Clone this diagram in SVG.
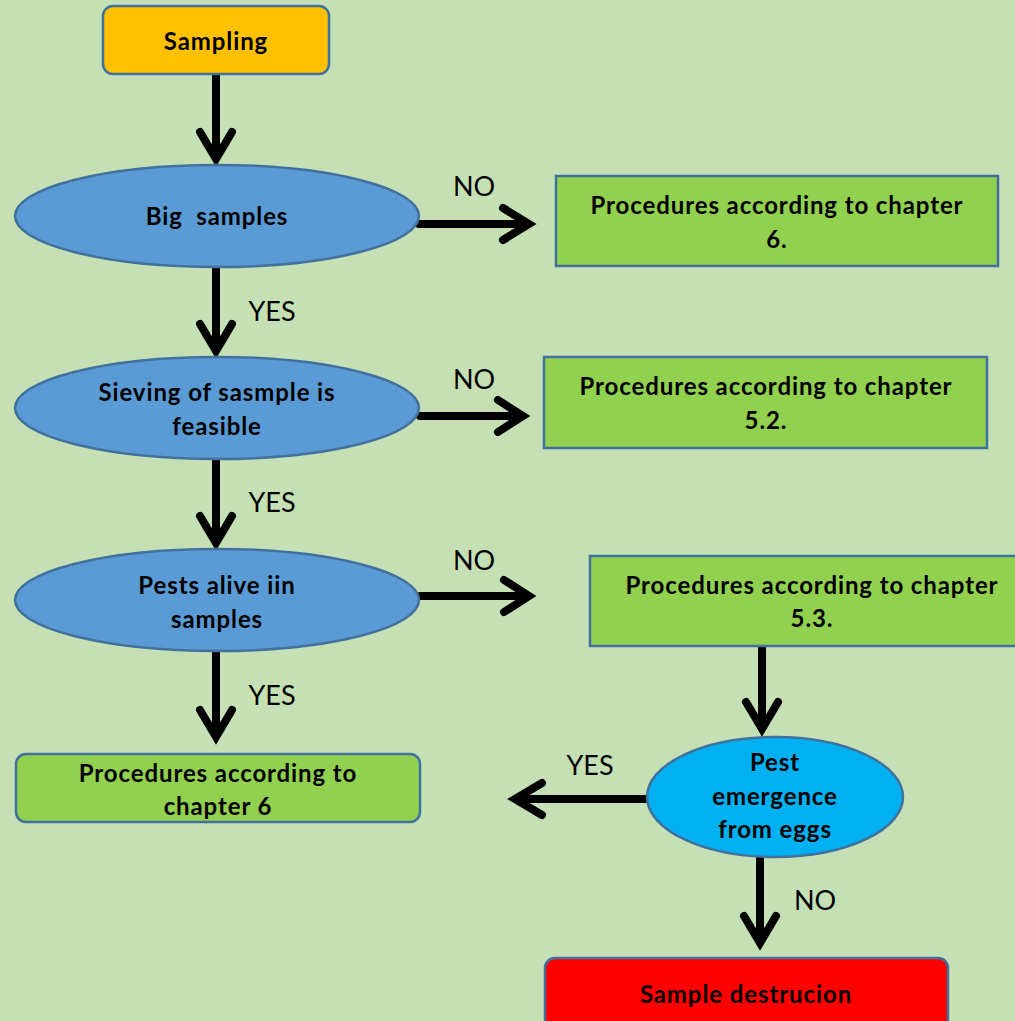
<svg xmlns="http://www.w3.org/2000/svg" width="1015" height="1021" viewBox="0 0 1015 1021">
<style>
.b{font-family:Lato,"Open Sans","Liberation Sans",sans-serif;font-weight:bold;font-size:24px;letter-spacing:0.9px;fill:#000;text-anchor:middle;white-space:pre}
.l{font-family:Lato,"Open Sans","Liberation Sans",sans-serif;font-size:27px;fill:#000;text-anchor:middle}
.st{stroke:#41719C;stroke-width:2.5}
.c{stroke:#000;stroke-width:8;fill:none;stroke-linecap:round;stroke-linejoin:miter}
</style>
<rect x="0" y="0" width="1015" height="1021" fill="#C5E0B4"/>
<g id="connectors">
<path class="c" d="M216 74V158" style="stroke-linecap:butt"/>
<path class="c" d="M200 132L216 159L232 132"/>
<path class="c" d="M419 224H526M503 208L529 224L503 240"/>
<path class="c" d="M216 267V350M200 324L216 351L232 324"/>
<path class="c" d="M420 416H518M498 400L523 416L498 432"/>
<path class="c" d="M216 459V542M200 516L216 543L232 516"/>
<path class="c" d="M420 596H526M504 580L529 596L504 612"/>
<path class="c" d="M216 652V736M200 710L216 737L232 710"/>
<path class="c" d="M762 643V727M746 702L762 729L778 702"/>
<path class="c" d="M647 799H518M542 783L515 799L542 815"/>
<path class="c" d="M760 857V942M744 916L760 943L776 916"/>
</g>
<g id="labels">
<text class="l" x="474" y="196">NO</text>
<text class="l" x="272" y="321">YES</text>
<text class="l" x="474" y="389">NO</text>
<text class="l" x="272" y="512">YES</text>
<text class="l" x="474" y="570">NO</text>
<text class="l" x="272" y="705">YES</text>
<text class="l" x="590" y="775">YES</text>
<text class="l" x="815" y="910">NO</text>
</g>
<g id="sampling">
<rect class="st" x="103" y="6" width="226" height="68" rx="10" fill="#FFC000"/>
<text class="b" x="216" y="50">Sampling</text>
</g>
<g id="big-samples">
<ellipse class="st" cx="217" cy="216" rx="202" ry="51" fill="#5B9BD5"/>
<text class="b" x="217" y="225">Big  samples</text>
</g>
<g id="proc-6-top">
<rect class="st" x="556" y="176" width="442" height="90" fill="#92D050"/>
<text class="b" x="777" y="214">Procedures according to chapter</text>
<text class="b" x="777" y="248">6.</text>
</g>
<g id="sieving">
<ellipse class="st" cx="217" cy="408" rx="202" ry="51" fill="#5B9BD5"/>
<text class="b" x="217" y="401">Sieving of sasmple is</text>
<text class="b" x="217" y="435">feasible</text>
</g>
<g id="proc-5-2">
<rect class="st" x="544" y="357" width="443" height="91" fill="#92D050"/>
<text class="b" x="766" y="395">Procedures according to chapter</text>
<text class="b" x="766" y="429">5.2.</text>
</g>
<g id="pests-alive">
<ellipse class="st" cx="217" cy="600" rx="202" ry="51" fill="#5B9BD5"/>
<text class="b" x="217" y="594">Pests alive iin</text>
<text class="b" x="217" y="628">samples</text>
</g>
<g id="proc-5-3">
<rect class="st" x="590" y="556" width="440" height="90" fill="#92D050"/>
<text class="b" x="812" y="594">Procedures according to chapter</text>
<text class="b" x="812" y="627">5.3.</text>
</g>
<g id="proc-6-bottom">
<rect class="st" x="16" y="754" width="404" height="68" rx="10" fill="#92D050"/>
<text class="b" x="218" y="782">Procedures according to</text>
<text class="b" x="218" y="815">chapter 6</text>
</g>
<g id="pest-emergence">
<ellipse class="st" cx="775" cy="797" rx="128" ry="60" fill="#00B0F0"/>
<text class="b" x="775" y="771">Pest</text>
<text class="b" x="775" y="805">emergence</text>
<text class="b" x="775" y="838">from eggs</text>
</g>
<g id="sample-destruction">
<rect class="st" x="545" y="958" width="403" height="80" rx="10" fill="#FF0000"/>
<text class="b" x="746" y="1003">Sample destrucion</text>
</g>
</svg>
